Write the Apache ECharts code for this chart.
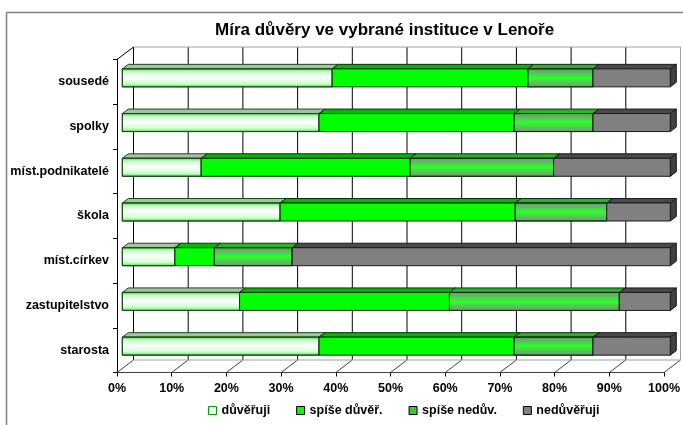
<!DOCTYPE html>
<html>
<head>
<meta charset="utf-8">
<script src="https://cdn.jsdelivr.net/npm/echarts@6/dist/echarts.min.js"></script>
<style>
  html, body { margin: 0; background: #fff; }
  #chart { width: 683px; height: 425px; }
</style>
</head>
<body>
<div id="chart"></div>
<script>
  var categories = ['sousedé', 'spolky', 'míst.podnikatelé', 'škola', 'míst.církev', 'zastupitelstvo', 'starosta']
  var seriesNames = ['důvěřuji', 'spíše důvěř.', 'spíše nedův.', 'nedůvěřuji']
  var duveruji = [38.3, 35.9, 14.4, 28.8, 9.6, 21.4, 35.9]
  var spiseDuver = [35.7, 35.6, 38.1, 42.9, 7.2, 38.3, 35.6]
  var spiseNeduv = [11.9, 14.4, 26.2, 16.7, 14.2, 31.0, 14.4]
  var neduveruji = [14.1, 14.1, 21.3, 11.6, 69.0, 9.3, 14.1]
  var xTicks = [0, 10, 20, 30, 40, 50, 60, 70, 80, 90, 100]

  var values = [duveruji, spiseDuver, spiseNeduv, neduveruji]
  var font = "'Liberation Sans', Arial, sans-serif"
  var DEPTH = [16.5, -12.5]   // floor / wall depth
  var BAR_D = [6, -4.5]       // bar depth
  var BAR_H = 18

  var grad = echarts.graphic.LinearGradient
  var looks = [
    { front: new grad(0, 0, 0, 1, [{offset: 0, color: '#33e033'}, {offset: 0.18, color: '#c8ffc8'}, {offset: 0.45, color: '#ffffff'}, {offset: 0.8, color: '#d0ffd0'}, {offset: 1, color: '#44e044'}]),
      top: '#a8c0a8', side: '#7a9a7a', border: '#1a4a1a', legend: '#ffffff', legendBorder: '#00a000' },
    { front: '#00ff00', top: '#00b800', side: '#009000', border: '#0a300a', legend: '#00ff00', legendBorder: '#000' },
    { front: new grad(0, 0, 0, 1, [{offset: 0, color: '#7a8f7a'}, {offset: 0.5, color: '#2cff2c'}, {offset: 1, color: '#7a8f7a'}]),
      top: '#22b822', side: '#208020', border: '#1a2a1a', legend: '#33cc33', legendBorder: '#000' },
    { front: '#808080', top: '#4a4a4a', side: '#404040', border: '#1a1a1a', legend: '#808080', legendBorder: '#000' }
  ]

  function barSeries(idx) {
    var data = categories.map(function (c, i) {
      var start = 0
      for (var k = 0; k < idx; k++) start += values[k][i]
      return [start, start + values[idx][i], i]
    })
    var look = looks[idx]
    return {
      type: 'custom', name: seriesNames[idx], xAxisIndex: 1, yAxisIndex: 1, z: 5,
      itemStyle: { color: look.legend },
      encode: { x: [0, 1], y: 2 },
      data: data,
      renderItem: function (params, api) {
        var p0 = api.coord([api.value(0), api.value(2)])
        var p1 = api.coord([api.value(1), api.value(2)])
        var x = p0[0], y = p0[1] - BAR_H / 2, w = p1[0] - p0[0], h = BAR_H
        var dx = BAR_D[0], dy = BAR_D[1]
        return { type: 'group', children: [
          { type: 'polygon', shape: { points: [[x, y], [x + dx, y + dy], [x + w + dx, y + dy], [x + w, y]] }, style: { fill: look.top, stroke: look.border, lineWidth: 1 } },
          { type: 'polygon', shape: { points: [[x + w, y], [x + w + dx, y + dy], [x + w + dx, y + h + dy], [x + w, y + h]] }, style: { fill: look.side, stroke: look.border, lineWidth: 1 } },
          { type: 'rect', shape: { x: x, y: y, width: w, height: h }, style: { fill: look.front, stroke: look.border, lineWidth: 1 } }
        ] }
      }
    }
  }
  var series = []
  for (var i = 0; i < 4; i++) series.push(barSeries(i))
  var front = { left: 117, top: 59.5, width: 548, height: 313 }

  var chart = echarts.init(document.getElementById('chart'))
  chart.setOption({
    backgroundColor: '#fff', animation: false,
    title: { text: 'Míra důvěry ve vybrané instituce v Lenoře', left: 215, top: 22, padding: 0,
      textStyle: { fontFamily: font, fontSize: 17, fontWeight: 'bold', color: '#000' } },
    legend: { left: 208, top: 404, padding: 0, itemWidth: 8, itemHeight: 8, itemGap: 26, icon: 'rect',
      textStyle: { fontFamily: font, fontSize: 12.5, fontWeight: 'bold', color: '#000' },
      data: seriesNames.map(function (n, i) { return { name: n, itemStyle: { color: looks[i].legend, borderColor: looks[i].legendBorder, borderWidth: 1 } } }) },
    grid: [
      { left: front.left, top: front.top, width: front.width, height: front.height },
      { left: front.left + 5.3, top: front.top - 4, width: front.width, height: front.height },
      { left: front.left + DEPTH[0], top: front.top + DEPTH[1], width: front.width - 1, height: front.height }
    ],
    xAxis: [
      { gridIndex: 0, type: 'value', min: 0, max: 100, interval: 10,
        axisLine: { show: true, lineStyle: { color: '#404040', width: 1 } },
        axisTick: { show: true, length: 4, lineStyle: { color: '#000' } }, splitLine: { show: false },
        axisLabel: { formatter: '{value}%', margin: 10, color: '#000', fontFamily: font, fontSize: 12.5, fontWeight: 'bold' } },
      { gridIndex: 1, type: 'value', min: 0, max: 100, show: false },
      { gridIndex: 2, type: 'value', min: 0, max: 100, show: false }
    ],
    yAxis: [
      { gridIndex: 0, type: 'category', data: categories, inverse: true,
        axisLine: { show: true, lineStyle: { color: '#000', width: 1 } },
        axisTick: { show: true, length: 4, lineStyle: { color: '#000' } },
        axisLabel: { margin: 8, color: '#000', fontFamily: font, fontSize: 12.5, fontWeight: 'bold' } },
      { gridIndex: 1, type: 'category', data: categories, inverse: true, show: false },
      { gridIndex: 2, type: 'value', min: 0, max: 1, show: false }
    ],
    series: series
  })

  // back wall, floor and left wall lines, placed through the back grid's scales
  var back = { xAxisIndex: 2, yAxisIndex: 2 }
  var lines = []
  function line(a, b, color, width) {
    lines.push({ type: 'line', z: 4, shape: { x1: a[0], y1: a[1], x2: b[0], y2: b[1] }, style: { stroke: color, lineWidth: width || 1 } })
  }
  function toFront(p) { return [p[0] - DEPTH[0], p[1] - DEPTH[1]] }
  xTicks.forEach(function (v) {
    var b = chart.convertToPixel(back, [v, 0])
    var t = chart.convertToPixel(back, [v, 1])
    line(b, t, v === 100 ? '#a0a0a0' : '#000')
    line(toFront(b), b, '#404040')
  })
  var bl = chart.convertToPixel(back, [0, 0]), br = chart.convertToPixel(back, [100, 0])
  var tl = chart.convertToPixel(back, [0, 1]), tr = chart.convertToPixel(back, [100, 1])
  line(tl, tr, '#a0a0a0')
  line(bl, br, '#a0a0a0')
  line(toFront(tl), tl, '#000')
  // chart area frame (top and left edges are the only ones inside the window)
  line([6.5, 12.5], [683, 12.5], '#808080', 1.5)
  line([6.5, 12.5], [6.5, 425], '#808080', 1.5)
  chart.setOption({ graphic: lines })
</script>
</body>
</html>
